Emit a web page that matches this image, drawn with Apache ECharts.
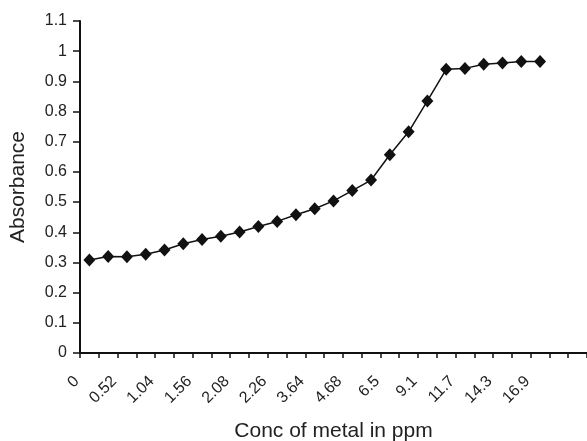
<!DOCTYPE html>
<html>
<head>
<meta charset="utf-8">
<script src="https://cdn.jsdelivr.net/npm/echarts@6/dist/echarts.min.js"></script>
<style>
  html, body { margin: 0; padding: 0; background: #fff; }
  #chart { width: 587px; height: 441px; }
</style>
</head>
<body>
<div id="chart"></div>
<script>
// concentration categories (every other one is labelled on the axis)
var conc = ['0', '0.26', '0.52', '0.78', '1.04', '1.3', '1.56', '1.82', '2.08', '2.17',
            '2.26', '2.95', '3.64', '4.16', '4.68', '5.59', '6.5', '7.8', '9.1', '10.4',
            '11.7', '13', '14.3', '15.6', '16.9', '', ''];
// absorbance readings
var absorbance = [0.308, 0.32, 0.319, 0.327, 0.341, 0.362, 0.376, 0.387, 0.401, 0.419,
                  0.436, 0.458, 0.478, 0.504, 0.538, 0.573, 0.657, 0.733, 0.835, 0.94,
                  0.943, 0.957, 0.961, 0.966, 0.966];

var chart = echarts.init(document.getElementById('chart'));
chart.setOption({
    animation: false,
    grid: { left: 80, right: 0, top: 21, bottom: 88, outerBoundsMode: 'none' },
    xAxis: {
        type: 'category',
        data: conc,
        name: 'Conc of metal in ppm',
        nameLocation: 'middle',
        nameGap: 68,
        nameTextStyle: { fontFamily: 'Liberation Sans', fontSize: 21, color: '#222' },
        axisLine: { lineStyle: { color: '#111', width: 2 } },
        axisTick: { show: true, interval: 0, length: 5, lineStyle: { color: '#111', width: 1.5 } },
        axisLabel: {
            interval: 1, rotate: 45, fontFamily: 'Liberation Sans', fontSize: 16,
            color: '#222', margin: 13, padding: [0, 18, 0, 0]
        }
    },
    yAxis: {
        type: 'value',
        min: 0,
        max: 1.1,
        interval: 0.1,
        name: 'Absorbance',
        nameLocation: 'middle',
        nameGap: 51,
        nameTextStyle: { fontFamily: 'Liberation Sans', fontSize: 21, color: '#222' },
        axisLine: { show: true, lineStyle: { color: '#111', width: 2 } },
        axisTick: { show: true, length: 7, lineStyle: { color: '#111', width: 1.5 } },
        axisLabel: { fontFamily: 'Liberation Sans', fontSize: 16, color: '#222', margin: 13 },
        splitLine: { show: false }
    },
    series: [{
        type: 'line',
        data: absorbance,
        showAllSymbol: true,
        symbol: 'diamond',
        symbolSize: [12, 13],
        itemStyle: { color: '#111' },
        lineStyle: { color: '#111', width: 1.5 }
    }]
});
</script>
</body>
</html>
